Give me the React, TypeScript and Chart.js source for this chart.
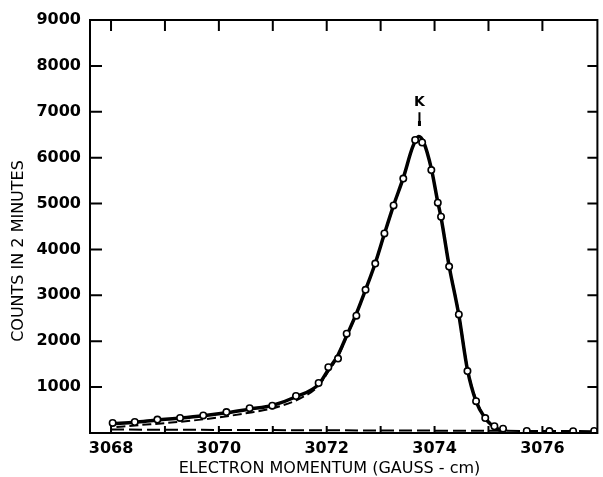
import React, { useEffect, useRef } from 'react';
import { Chart, registerables } from 'chart.js';

Chart.register(...registerables);

// Observed counts (open circles)
const obsX = [3068.03, 3068.44, 3068.86, 3069.28, 3069.71, 3070.14, 3070.57, 3070.99, 3071.43, 3071.85, 3072.03, 3072.21, 3072.37, 3072.55, 3072.72, 3072.9, 3073.07, 3073.24, 3073.42, 3073.64, 3073.77, 3073.94, 3074.06, 3074.12, 3074.27, 3074.45, 3074.61, 3074.77, 3074.94, 3075.11, 3075.27, 3075.71, 3076.13, 3076.57, 3076.96];
const obsY = [220, 240, 292, 328, 383, 456, 540, 595, 806, 1090, 1435, 1622, 2165, 2557, 3120, 3692, 4350, 4960, 5545, 6385, 6330, 5730, 5020, 4712, 3627, 2583, 1350, 693, 325, 147, 95, 45, 42, 40, 45];

// Solid drawn curve
const curveX = [3068.03, 3068.44, 3068.86, 3069.28, 3069.71, 3070.14, 3070.57, 3070.99, 3071.43, 3071.85, 3072.03, 3072.21, 3072.37, 3072.55, 3072.72, 3072.9, 3073.07, 3073.24, 3073.42, 3073.6, 3073.71, 3073.8, 3073.94, 3074.06, 3074.12, 3074.27, 3074.45, 3074.61, 3074.77, 3074.94, 3075.08, 3075.2, 3075.3];
const curveY = [205, 235, 285, 325, 375, 440, 520, 600, 790, 1060, 1380, 1700, 2120, 2600, 3120, 3700, 4340, 4960, 5560, 6250, 6460, 6330, 5760, 5030, 4700, 3640, 2570, 1380, 690, 320, 150, 70, 45];

// Dashed fitted curve
const fitX = [3068.1, 3068.5, 3069.0, 3069.5, 3070.0, 3070.5, 3071.0, 3071.5, 3071.85, 3072.03, 3072.21, 3072.37, 3072.55, 3072.72, 3072.9, 3073.07, 3073.24, 3073.42, 3073.6, 3073.71, 3073.8, 3073.94, 3074.06, 3074.12, 3074.27, 3074.45, 3074.61, 3074.77, 3074.94, 3075.08, 3075.2, 3075.35];
const fitY = [130, 170, 215, 270, 340, 430, 540, 750, 1030, 1340, 1670, 2100, 2590, 3110, 3690, 4330, 4950, 5550, 6240, 6440, 6320, 5760, 5040, 4720, 3660, 2600, 1410, 720, 340, 170, 90, 50];

// Dashed background line
const baseX = [3068.0, 3077.0];
const baseY = [75, 40];

// Axis ticks
const xTickLabels = [3068, 3070, 3072, 3074, 3076];
const xMinorTicks = [3068, 3069, 3070, 3071, 3072, 3073, 3074, 3075, 3076];
const yTickLabels = [1000, 2000, 3000, 4000, 5000, 6000, 7000, 8000, 9000];
const xMin = 3067.61;
const xMax = 3077.02;
const yMin = 0;
const yMax = 9000;

// Peak annotation
const peakLabel = 'K';
const peakX = 3073.72;
const peakLabelY = 7210;
const arrowTopY = 6990;
const arrowBottomY = 6690;

const xTitle = 'ELECTRON MOMENTUM (GAUSS - cm)';
const yTitle = 'COUNTS IN 2 MINUTES';

const pts = (xs: number[], ys: number[]) => xs.map((x, i) => ({ x, y: ys[i] }));

const framePlugin = {
  id: 'frame',
  afterDraw(chart: any) {
    const { ctx, chartArea } = chart;
    const xs = chart.scales.x;
    const ys = chart.scales.y;
    const { left, right, top, bottom } = chartArea;
    ctx.save();
    ctx.strokeStyle = '#000';
    ctx.lineWidth = 2;
    ctx.beginPath();
    ctx.moveTo(left, top);
    ctx.lineTo(right, top);
    ctx.lineTo(right, bottom);
    ctx.lineTo(left, bottom);
    ctx.closePath();
    ctx.stroke();
    // y ticks (inward)
    yTickLabels.forEach((v) => {
      const py = ys.getPixelForValue(v);
      ctx.beginPath();
      ctx.moveTo(left, py);
      ctx.lineTo(left + 12, py);
      if (v < yMax) {
        ctx.moveTo(right, py);
        ctx.lineTo(right - 10, py);
      }
      ctx.stroke();
    });
    // x ticks
    xMinorTicks.forEach((v) => {
      const px = xs.getPixelForValue(v);
      ctx.beginPath();
      ctx.moveTo(px, top);
      ctx.lineTo(px, top + 11);
      ctx.moveTo(px, bottom);
      ctx.lineTo(px, bottom - 7);
      ctx.stroke();
    });
    // K marker
    const kx = xs.getPixelForValue(peakX);
    ctx.fillStyle = '#000';
    ctx.font = 'bold 14px "DejaVu Sans"';
    ctx.textAlign = 'center';
    ctx.textBaseline = 'middle';
    ctx.fillText(peakLabel, kx, ys.getPixelForValue(peakLabelY));
    ctx.lineWidth = 2;
    ctx.beginPath();
    ctx.moveTo(kx, ys.getPixelForValue(arrowTopY));
    ctx.lineTo(kx, ys.getPixelForValue(arrowBottomY));
    ctx.stroke();
    ctx.lineWidth = 3;
    ctx.beginPath();
    const ab = ys.getPixelForValue(arrowBottomY);
    ctx.moveTo(kx, ab - 5);
    ctx.lineTo(kx, ab);
    ctx.stroke();
    // Titles
    ctx.font = '16px "DejaVu Sans"';
    ctx.fillText(xTitle, 329.5, 469);
    ctx.translate(19, 251);
    ctx.rotate(-Math.PI / 2);
    ctx.fillText(yTitle, 0, 0);
    ctx.restore();
  },
};

export default function App() {
  const ref = useRef<HTMLCanvasElement>(null);
  useEffect(() => {
    if (!ref.current) return;
    const tickFont = { family: '"DejaVu Sans"', size: 16, weight: 'bold' as const };
    const chart = new Chart(ref.current, {
      type: 'scatter',
      data: {
        datasets: [
          {
            label: 'observed',
            data: pts(obsX, obsY),
            showLine: false,
            pointRadius: 3.2,
            pointBackgroundColor: '#fff',
            pointBorderColor: '#000',
            pointBorderWidth: 1.6,
            order: 0,
          },
          {
            label: 'fit',
            data: pts(fitX, fitY),
            showLine: true,
            borderColor: '#000',
            borderWidth: 2,
            borderDash: [9, 4],
            pointRadius: 0,
            cubicInterpolationMode: 'monotone',
            order: 1,
          },
          {
            label: 'curve',
            data: pts(curveX, curveY),
            showLine: true,
            borderColor: '#000',
            borderWidth: 3.5,
            pointRadius: 0,
            cubicInterpolationMode: 'monotone',
            order: 2,
          },
          {
            label: 'background',
            data: pts(baseX, baseY),
            showLine: true,
            borderColor: '#000',
            borderWidth: 2,
            borderDash: [13, 5],
            pointRadius: 0,
            order: 3,
          },
        ],
      },
      options: {
        animation: false,
        responsive: false,
        devicePixelRatio: 1,
        layout: { padding: { top: 20, right: 1.3, left: 0, bottom: 0 } },
        plugins: { legend: { display: false }, tooltip: { enabled: false } },
        scales: {
          x: {
            type: 'linear',
            min: xMin,
            max: xMax,
            grid: { display: false, drawTicks: false },
            border: { display: false },
            afterBuildTicks: (s: any) => {
              s.ticks = xTickLabels.map((v) => ({ value: v }));
            },
            afterFit: (s: any) => {
              s.height = 44;
            },
            ticks: {
              font: tickFont,
              color: '#000',
              padding: 6,
              maxRotation: 0,
              callback: (v: any) => String(v),
            },
          },
          y: {
            type: 'linear',
            min: yMin,
            max: yMax,
            grid: { display: false, drawTicks: false },
            border: { display: false },
            afterBuildTicks: (s: any) => {
              s.ticks = yTickLabels.map((v) => ({ value: v }));
            },
            afterFit: (s: any) => {
              s.width = 90;
            },
            ticks: {
              font: tickFont,
              color: '#000',
              padding: 9,
              callback: (v: any) => String(v),
            },
          },
        },
      },
      plugins: [framePlugin],
    });
    return () => chart.destroy();
  }, []);
  return (
    <div style={{ position: 'fixed', left: 0, top: 0, width: 603, height: 477, background: '#fff' }}>
      <canvas ref={ref} width={603} height={477} />
    </div>
  );
}
